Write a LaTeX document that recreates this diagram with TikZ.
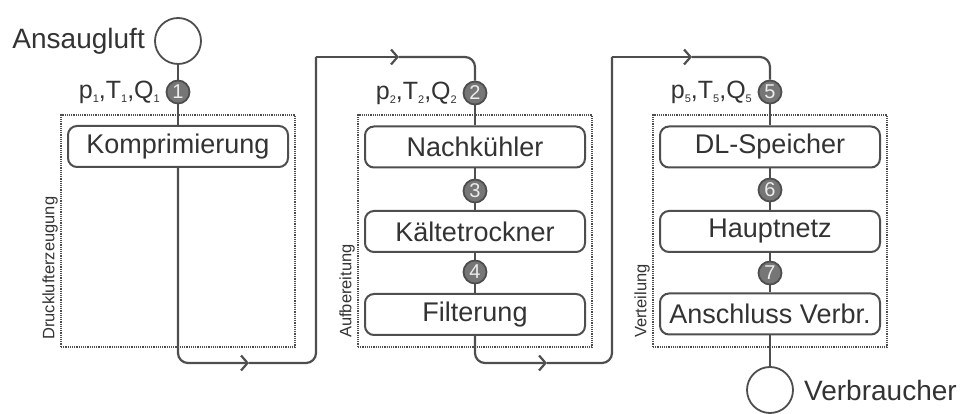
\documentclass[tikz,border=0pt]{standalone}
\usepackage{fontspec}
\setmainfont{Liberation Sans}
\usetikzlibrary{arrows.meta}
\definecolor{ln}{HTML}{4E4E4E}
\definecolor{tx}{HTML}{333333}
\definecolor{pt}{HTML}{767676}
\newcommand\sbx[1]{\raisebox{-0.35ex}{\fontsize{11}{12}\selectfont #1}}
\tikzset{
  x=1pt, y=1pt,
  flow/.style={draw=ln, line width=2.2pt, rounded corners=10pt},
  chev/.style={-{Straight Barb[length=6.5pt,width=15pt]}},
  proc/.style={draw=ln, line width=2pt, rounded corners=9pt, fill=white, minimum width=220pt, minimum height=41pt, inner sep=0pt, text=tx, font=\fontsize{27}{30}\selectfont},
  group/.style={draw=ln, line width=1.7pt, dash pattern=on 1.2pt off 1pt, minimum width=234pt, minimum height=232pt, inner sep=0pt},
  pnt/.style={circle, draw=ln, line width=1.8pt, fill=pt, minimum size=23pt, inner sep=0pt, text=white!85!gray, font=\fontsize{20}{21}\selectfont},
  term/.style={circle, draw=ln, line width=1.8pt, fill=white, minimum size=46pt, inner sep=0pt},
  lbl/.style={text=tx, inner sep=0pt, font=\fontsize{28}{30}\selectfont},
  state/.style={text=tx, inner sep=0pt, anchor=east, font=\fontsize{25}{26}\selectfont},
  grp/.style={text=tx, inner sep=0pt, rotate=90, anchor=south west, font=\fontsize{16.5}{18}\selectfont}
}
\begin{document}
\begin{tikzpicture}
\useasboundingbox (0,0) rectangle (960,414);
% groups
\node[group] (g1) at (178,183) {};
\node[group] (g2) at (475,183) {};
\node[group] (g3) at (770,183) {};
\node[grp] (lg1) at (58,74) {Drucklufterzeugung};
\node[grp] (lg2) at (355,76) {Aufbereitung};
\node[grp] (lg3) at (650,76) {Verteilung};
% column 1
\node[term] (ein) at (178,373) {};
\node[lbl, anchor=east] (tein) at (145,373) {Ansaugluft};
\node[pnt] (n1) at (178,322) {1};
\node[state] (s1) at (160,322) {p\sbx{1},T\sbx{1},Q\sbx{1}};
\node[proc] (komp) at (178,267.5) {Komprimierung};
% column 2
\node[pnt] (n2) at (475,321) {2};
\node[state] (s2) at (457,321) {p\sbx{2},T\sbx{2},Q\sbx{2}};
\node[proc] (nach) at (475,267) {Nachkühler};
\node[pnt] (n3) at (475,223) {3};
\node[proc] (kalt) at (475,182.5) {Kältetrockner};
\node[pnt] (n4) at (475,142) {4};
\node[proc] (filt) at (475,99.5) {Filterung};
% column 3
\node[pnt] (n5) at (770,322) {5};
\node[state] (s5) at (752,322) {p\sbx{5},T\sbx{5},Q\sbx{5}};
\node[proc] (dl) at (770,267) {DL-Speicher};
\node[pnt] (n6) at (770,224) {6};
\node[proc] (haupt) at (770,182.5) {Hauptnetz};
\node[pnt] (n7) at (770,141) {7};
\node[proc] (ansch) at (770,100) {Anschluss Verbr.};
\node[term] (aus) at (770,24) {};
\node[lbl, anchor=west] (taus) at (804,24) {Verbraucher};
% coordinates of the route
\coordinate (a1) at (249,51);
\coordinate (u1) at (316,357);
\coordinate (a2) at (399,357);
\coordinate (a3) at (547,51);
\coordinate (u2) at (612,357);
\coordinate (a4) at (692,357);
% connectors
\draw[flow] (ein) -- (n1);
\draw[flow] (n1) -- (komp);
\draw[flow, chev] (komp.south) |- (a1);
\draw[flow] (a1) -| (u1);
\draw[flow, chev] (u1) -- (a2);
\draw[flow] (a2) -| (n2);
\draw[flow] (n2) -- (nach);
\draw[flow] (nach) -- (n3);
\draw[flow] (n3) -- (kalt);
\draw[flow] (kalt) -- (n4);
\draw[flow] (n4) -- (filt);
\draw[flow, chev] (filt.south) |- (a3);
\draw[flow] (a3) -| (u2);
\draw[flow, chev] (u2) -- (a4);
\draw[flow] (a4) -| (n5);
\draw[flow] (n5) -- (dl);
\draw[flow] (dl) -- (n6);
\draw[flow] (n6) -- (haupt);
\draw[flow] (haupt) -- (n7);
\draw[flow] (n7) -- (ansch);
\draw[flow] (ansch) -- (aus);
\end{tikzpicture}
\end{document}
